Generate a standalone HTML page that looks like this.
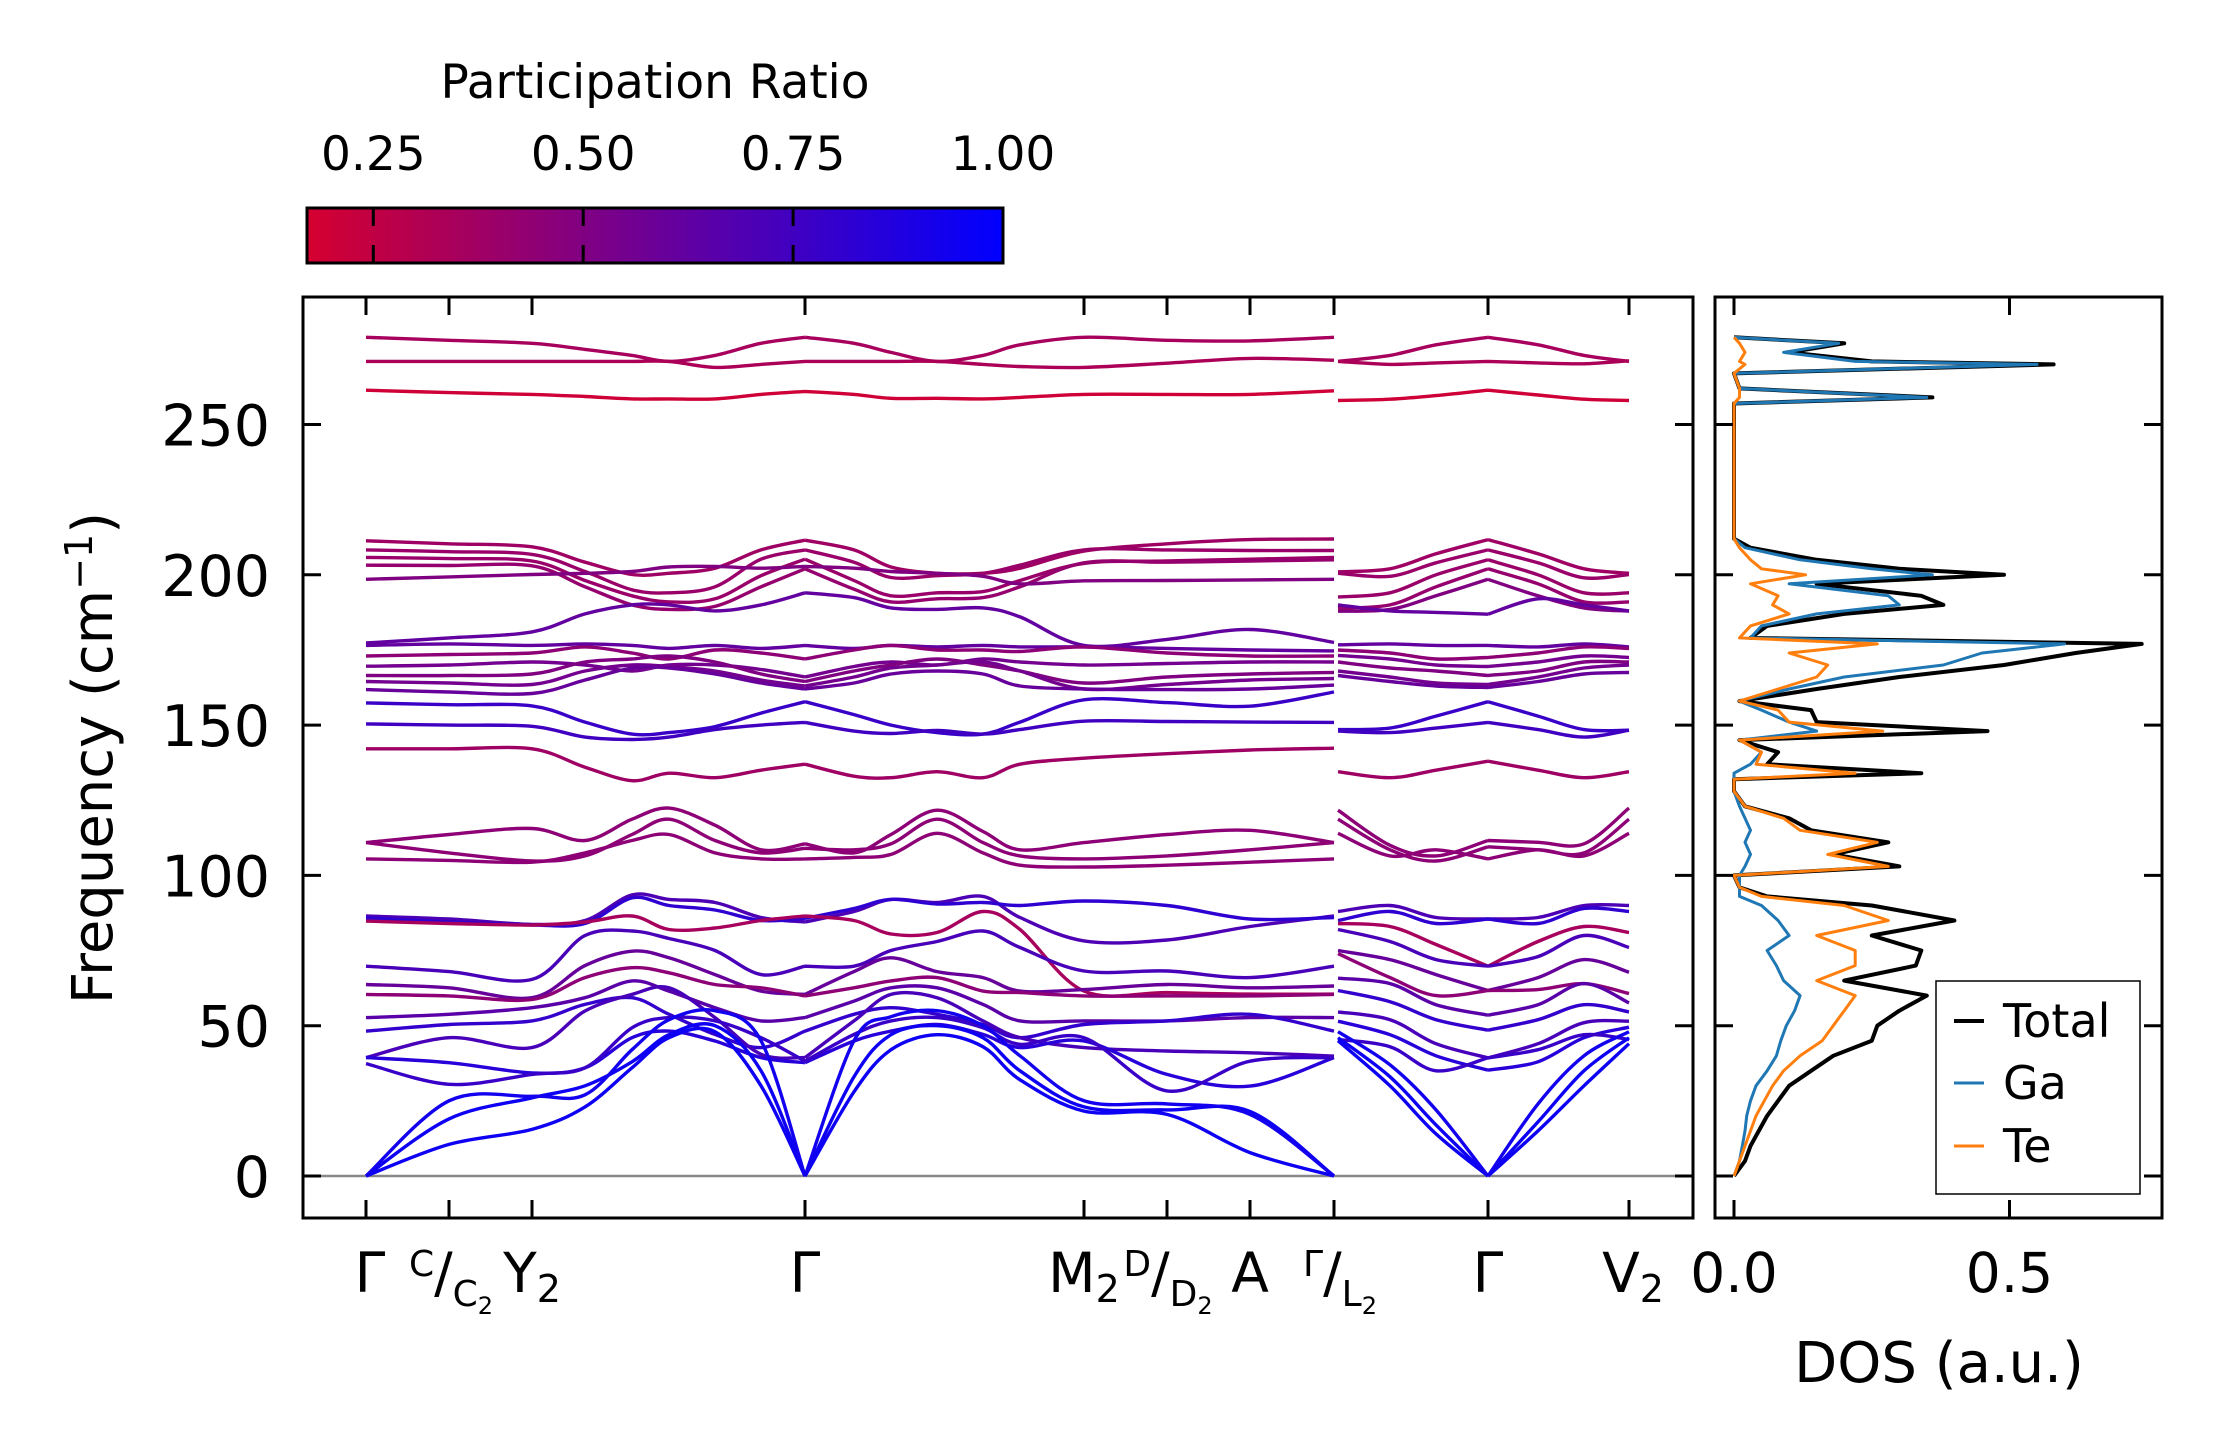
<!DOCTYPE html>
<html><head><meta charset="utf-8"><style>
html,body{margin:0;padding:0;background:#fff;}
svg{display:block;font-family:"DejaVu Sans","Liberation Sans",sans-serif;}
</style></head><body>
<svg id="fig" width="2222" height="1455" viewBox="0 0 2222 1455" xmlns="http://www.w3.org/2000/svg">
<defs>
<linearGradient id="cbgrad" x1="0" x2="1" y1="0" y2="0">
<stop offset="0" stop-color="rgb(213,0,48)"/>
<stop offset="1" stop-color="rgb(0,0,255)"/>
</linearGradient>
<clipPath id="clipMain"><rect x="303" y="297" width="1390" height="921"/></clipPath>
<clipPath id="clipDos"><rect x="1715" y="297" width="447" height="921"/></clipPath>
</defs>
<g>
<text x="655" y="98" font-size="47" text-anchor="middle">Participation Ratio</text>
<rect x="307" y="208" width="696" height="55" fill="url(#cbgrad)" stroke="#000" stroke-width="3"/>
<g id="cbticks"></g>
</g>
<g id="main">
<line x1="303" x2="1693" y1="1176" y2="1176" stroke="#888" stroke-width="2.5"/>
<g id="bands" clip-path="url(#clipMain)"></g>
<rect x="303" y="297" width="1390" height="921" fill="none" stroke="#000" stroke-width="3"/>
<g id="mainTicks"></g>
<text transform="translate(112,758) rotate(-90)" font-size="56" text-anchor="middle">Frequency (cm<tspan font-size="38" dy="-20">−1</tspan><tspan dy="20">)</tspan></text>
</g>
<g id="dos">
<g id="dosLines" clip-path="url(#clipDos)"></g>
<rect x="1715" y="297" width="447" height="921" fill="none" stroke="#000" stroke-width="3"/>
<g id="dosTicks"></g>
<text x="1939" y="1382" font-size="56" text-anchor="middle">DOS (a.u.)</text>
<g>
<rect x="1936" y="981" width="204" height="213" fill="#fff" stroke="#000" stroke-width="1.5"/>
<line x1="1954" x2="1984" y1="1021" y2="1021" stroke="#000" stroke-width="4"/>
<text x="2003" y="1037" font-size="46">Total</text>
<line x1="1954" x2="1984" y1="1083" y2="1083" stroke="#1f77b4" stroke-width="3"/>
<text x="2003" y="1099" font-size="46">Ga</text>
<line x1="1954" x2="1984" y1="1146" y2="1146" stroke="#ff7f0e" stroke-width="3"/>
<text x="2003" y="1162" font-size="46">Te</text>
</g>
</g>
</svg>
<script>
// ---- data ----
const kSeg1=[0,0.83,1.66,2.19,2.66,3.03,3.49,3.95,4.39,4.88,5.25,5.71,6.17,6.54,7.18,8.01,8.84,9.68];
const kSeg2=[9.72,10.24,10.70,11.22,11.72,12.18,12.63];
const kTicks=[0,0.83,1.66,4.39,7.18,8.01,8.84,9.68,11.22,12.63];
const yTicks=[0,50,100,150,200,250];
const cbTicks=[0.25,0.50,0.75,1.00];
const cbTickLabels=["0.25","0.50","0.75","1.00"];
const bandNames=["A","B","C","D1","D2","D3","D4","D5","D6","F1","F2","F3","F4","F5","F6","G1","G2","H","I1","I2","I3","B1","B2","B3","B4","B5","B6","B7","B8","B9","B10","B11","L1","L2","L3"];
const bandRatio=[0.35,0.33,0.2,0.38,0.4,0.4,0.42,0.5,0.62,0.62,0.45,0.55,0.5,0.55,0.6,0.78,0.75,0.38,0.45,0.45,0.45,0.7,0.82,0.35,0.72,0.6,0.45,0.65,0.8,0.72,0.85,0.78,0.95,0.95,0.93];
const seg1Freq=[
[279,278,277,275,273,271,273,277,279,277,274,271,273,276.5,279,278,277.8,279],
[271,271,271,271,271,271,269,270,271,271,271,271,270,269.3,269,270.4,272,271.4],
[261.4,260.6,260,259.3,258.5,258.5,258.5,260,261,260,258.7,258.7,258.5,259,260,260,260,261.2],
[211.3,210.3,209.3,204.2,200.1,200.5,202.2,208.3,211.5,208.3,202.6,200.5,200.5,202.2,207.9,210.3,211.7,211.9],
[208.3,207.7,206.8,201.1,195,194,196,205.2,208.3,204.2,199.1,199.7,200.5,203.2,208.3,208.3,208.1,208.1],
[205.8,205.4,204.6,198.1,193,191,192,199.7,205.2,198.1,193,194,194.4,198.1,203.8,204.6,205.2,205.8],
[203.2,203.1,203,196,190,188.5,189.5,196,202,195.2,191,192,192.4,196,204,204.2,204.6,205],
[198.5,199.3,200.1,200.5,201.1,202.6,202.8,202.2,202.8,202.2,201.1,200.5,199.5,197,198,198.1,198.3,198.5],
[177.3,179,181,187,190,190,188,190,194,192.4,189,188.5,189,186,176.5,178.5,181.8,177.5],
[176.5,177,176.5,177,176.5,175.5,176.5,175.5,176.5,175.5,176.5,176,176.5,176,176,175.5,175,174.7],
[173,173.5,174,176,174,172,175,174,172,175,176.5,175,175,174.5,176,174,173,173],
[169.6,170,171,170,168,170,170,168.5,166,169.5,171,170,172,171,170,170.5,171,171],
[166.5,166.5,167,171,172,173,171,167,164.5,168,170,172,170,168,164,166,167,167.5],
[164.5,164,163.5,168,170,169.5,168,165,163,166,169,170,171,168,162,163.5,165,165.5],
[161.8,161,160.5,165,169,169,167,164,162,164,167,168,167,163,162,161.8,162,163.3],
[157.4,156.8,156.4,151,147,147.5,149.5,154,157.8,153.5,150,147.5,147,151,158.4,157.5,156.3,161],
[150.4,150,149.6,146,145.2,146,148.5,150,150.9,148,147.2,148.2,147,148.5,151.3,151.2,151,150.9],
[142.1,142.1,142.1,136,131.5,134,132.5,135,137,133,132.5,134.5,132.5,137,139,140.5,141.7,142.3],
[110.9,113.6,115.6,111.6,118.7,122.4,116.7,108.5,110.5,107.5,113.6,121.7,114.6,108.5,110.9,113.6,115,110.9],
[110.9,107.5,104.8,106.5,113.6,118.7,111.6,107.5,109,108.5,110.5,118.7,110.9,106.5,105.5,106.5,108.5,110.9],
[105.5,105,104.4,107.5,111.6,113.6,107.5,105.5,105.5,106,107,114,107.5,103.4,102.8,103.4,104.4,105.5],
[86.5,85.5,83.7,85,93.5,92,91,86,84.5,88,92,91,93,86,78.2,78.5,83,86.5],
[85.9,84.5,83.5,84,92.5,90,88.5,85,85.7,89,92,90.5,91,90,91.5,90,85.5,86],
[84.8,84,83.5,84.5,86.5,82,82.5,85,86.5,85,80.5,81,88,82,61.5,61,60.5,60.5],
[69.8,68,65.4,80,81.5,79,75,67,69.8,69.8,75,78,81.5,76,68.2,68.2,66,69.8],
[63.7,62.6,59.3,70,74.8,72.6,67,61.5,60.4,68,72.6,68,66,61.5,62,63.7,62.6,63.2],
[60.4,59.9,58.7,66,69.3,67.6,63.7,62.6,59.9,62.6,64.9,66,61.5,61,59.9,59.9,59.9,60.4],
[52.7,53.8,56,59.3,64.9,61.5,56,51.6,52.7,58.2,62.6,62.6,57.1,51.6,51.6,51.6,52.7,52.7],
[48.2,50.4,51.6,57.1,59.3,53.8,47.1,42.7,48.2,53.8,56,53.8,50.4,46,50.4,51.6,53.8,48.2],
[39.4,46,42.7,54.9,60.4,62.6,52.7,40.5,39.4,51.6,60.4,59.3,51.6,46,42.7,41.6,41,39.9],
[39.4,37.7,34.3,36,46,48.2,44.9,39.4,37.7,44.9,48.2,50.4,47.1,42.7,44.9,33.8,29.9,39.4],
[37.4,30.5,33.8,36,49.3,52.7,51.6,46,38.2,47.1,51.6,52.7,49.3,43.8,46,28.3,38.2,39.4],
[0,10.5,15.5,23,36,46,48,30,0,28,42,47,43,32,21.6,20.5,7.8,0],
[0,19,26,30,38,47,50,35,0,33,47,50,46,35,23,22,21.5,0],
[0,25,26.5,27,42,52,55,45,0,45,53,55,50,40,25,24,20.5,0]
];
const seg2Freq=[
[271,273,276.5,279,276.5,273,271],
[271,270,270.5,271,270.5,270.2,271.2],
[258,258.4,259.6,261.4,259.8,258.4,258],
[201,202,207,211.7,207,202,200.5],
[200.5,199.5,204,208.3,204,199,200.1],
[192.6,194,200,205,200,194,194],
[188.9,190,196,202,197,191,191],
[187.9,188.5,193,198.5,193,189,187.9],
[190,188,187.5,186.9,192,190,188],
[176.7,177,176.5,176.5,176,177,176],
[175,174,172,172.5,174,176,175.5],
[173.2,172,170,169.5,171,173,172.5],
[171,169,168,166.5,168,171,171],
[168,166,164,163.5,166,169,170],
[166.5,164.5,163,162.5,164.5,167,167.5],
[148.5,149,153,157.8,153,148.5,148.3],
[148,147.5,149,150.9,148.5,146,148.3],
[134.5,132.5,135,138,135,132.5,134.5],
[121.7,110,106.5,111.6,111,110.5,122.4],
[118.7,108.5,104.8,109.5,108.5,107.5,118.7],
[114,106.5,108.5,105.5,108.5,106.5,114],
[88,90,86,85.5,86,90,90],
[85,88,84,85.5,84,89,88],
[84,83,77,69.8,78,83,81],
[82,78,72,69.8,73,80,76],
[75,72,67,61.7,66,72,67.8],
[74,66,60,61.7,62,64,60.7],
[65.8,64,57,53.5,57,64,57.6],
[61.7,58,52,48.5,52,57,54.6],
[54.6,52,44,39.3,44,51,51.5],
[51.5,47,40,35.2,38,46,49.5],
[45.4,43,35,39.3,42,47,45.4],
[45,30,14,0,15,30,44],
[46,33,17,0,18,35,46],
[48,37,22,0,24,40,48]
];
// DOS data
const dosFreq=[0,5,10,15,20,25,30,35,40,45,50,55,60,65,70,75,80,85,90,93,96,100,103,107,111,115,119,123,128,132,134,137,141,145,148,151,155,158,162,166,170,174,177,179,183,187,190,193,197,200,202,205,209,212,220,250,257,259,262,267,270,271,274,277,279];
const dosTotal=[0,0.02,0.03,0.045,0.06,0.08,0.1,0.14,0.18,0.25,0.26,0.3,0.35,0.2,0.33,0.34,0.25,0.4,0.25,0.06,0.01,0,0.3,0.18,0.28,0.14,0.1,0.02,0,0,0.34,0.06,0.08,0.01,0.46,0.15,0.14,0.01,0.15,0.3,0.49,0.62,0.74,0.03,0.06,0.2,0.38,0.34,0.15,0.49,0.3,0.15,0.03,0,0,0,0,0.36,0.01,0,0.58,0.25,0.1,0.2,0];
const dosGa=[0,0.01,0.015,0.02,0.023,0.03,0.04,0.06,0.077,0.085,0.095,0.11,0.12,0.09,0.077,0.06,0.1,0.08,0.05,0.01,0.01,0.01,0.02,0.03,0.02,0.03,0.02,0.01,0,0,0,0.03,0.05,0.01,0.15,0.1,0.05,0.01,0.1,0.2,0.38,0.45,0.6,0.03,0.05,0.15,0.3,0.28,0.1,0.36,0.25,0.12,0.02,0,0,0,0,0.35,0.01,0,0.55,0.22,0.09,0.19,0];
const dosTe=[0,0.01,0.02,0.03,0.04,0.055,0.07,0.09,0.12,0.16,0.18,0.2,0.22,0.15,0.22,0.22,0.15,0.28,0.2,0.05,0.01,0,0.28,0.17,0.26,0.12,0.09,0.02,0,0,0.22,0.04,0.05,0.01,0.27,0.1,0.08,0.01,0.08,0.15,0.17,0.1,0.26,0.01,0.03,0.1,0.07,0.08,0.03,0.13,0.05,0.03,0.01,0,0,0,0,0.01,0.01,0,0.02,0.01,0.02,0.01,0];
const dosTickVals=[0,0.5];
const dosTickLabels=["0.0","0.5"];

// ---- scales ----
const NS="http://www.w3.org/2000/svg";
const xk=k=>366+k*100;
const yf=f=>1176-f*3.006;
const xd=v=>1734+v*551;
const xcb=r=>307+(r-0.171)/(1-0.171)*696;
function ratioColor(r){
  const t=Math.max(0,Math.min(1,(r-0.171)/(1-0.171)));
  return "rgb("+Math.round(213*(1-t))+",0,"+Math.round(48+(255-48)*t)+")";
}
function mk(tag,attrs,parent){
  const e=document.createElementNS(NS,tag);
  for(const a in attrs)e.setAttribute(a,attrs[a]);
  parent.appendChild(e);return e;
}
function smoothPath(pts){
  let d="M"+pts[0][0].toFixed(1)+","+pts[0][1].toFixed(1);
  for(let i=0;i<pts.length-1;i++){
    const p0=pts[Math.max(0,i-1)],p1=pts[i],p2=pts[i+1],p3=pts[Math.min(pts.length-1,i+2)];
    const c1x=p1[0]+(p2[0]-p0[0])/6,c1y=p1[1]+(p2[1]-p0[1])/6;
    const c2x=p2[0]-(p3[0]-p1[0])/6,c2y=p2[1]-(p3[1]-p1[1])/6;
    d+=" C"+c1x.toFixed(1)+","+c1y.toFixed(1)+" "+c2x.toFixed(1)+","+c2y.toFixed(1)+" "+p2[0].toFixed(1)+","+p2[1].toFixed(1);
  }
  return d;
}
function piecePath(ks,fs,a,b){
  const pts=[];
  for(let i=a;i<=b;i++)pts.push([xk(ks[i]),yf(fs[i])]);
  return smoothPath(pts);
}

// bands (split at Gamma points so acoustic modes form sharp V)
const gB=document.getElementById("bands");
for(let b=0;b<bandNames.length;b++){
  const col=ratioColor(bandRatio[b]);
  const d1=piecePath(kSeg1,seg1Freq[b],0,8)+" "+piecePath(kSeg1,seg1Freq[b],8,17);
  const p1=mk("path",{d:d1,fill:"none",stroke:col,"stroke-width":3.4,"stroke-linejoin":"miter"},gB);
  
  
  const d2=piecePath(kSeg2,seg2Freq[b],0,3)+" "+piecePath(kSeg2,seg2Freq[b],3,6);
  const p2=mk("path",{d:d2,fill:"none",stroke:col,"stroke-width":3.4},gB);
  
  
}

// main ticks
const gT=document.getElementById("mainTicks");
kTicks.forEach(k=>{
  const t1=mk("line",{x1:xk(k),x2:xk(k),y1:297,y2:315,stroke:"#000","stroke-width":3},gT);
  
  
  const t2=mk("line",{x1:xk(k),x2:xk(k),y1:1200,y2:1218,stroke:"#000","stroke-width":3},gT);
  
  
});
yTicks.forEach(f=>{
  const l1=mk("line",{x1:303,x2:321,y1:yf(f),y2:yf(f),stroke:"#000","stroke-width":3},gT);
  
  
  const l2=mk("line",{x1:1675,x2:1693,y1:yf(f),y2:yf(f),stroke:"#000","stroke-width":3},gT);
  
  
  const tx=mk("text",{x:270,y:yf(f)+21,"font-size":57,"text-anchor":"end"},gT);
  tx.textContent=String(f);
  
  
});
// x labels
const xlab=document.createElementNS(NS,"g");


gT.appendChild(xlab);
xlab.innerHTML=
 '<text x="370" y="1292" font-size="55" text-anchor="middle">Γ</text>'+
 '<text x="451" y="1292" font-size="55" text-anchor="middle"><tspan font-size="36" dy="-16">C</tspan><tspan dy="16">/</tspan><tspan font-size="36" dy="14">C</tspan><tspan font-size="24" dy="8">2</tspan></text>'+
 '<text x="532" y="1292" font-size="55" text-anchor="middle">Y<tspan font-size="38" dy="10">2</tspan></text>'+
 '<text x="805" y="1292" font-size="55" text-anchor="middle">Γ</text>'+
 '<text x="1084" y="1292" font-size="55" text-anchor="middle">M<tspan font-size="38" dy="10">2</tspan></text>'+
 '<text x="1168" y="1292" font-size="55" text-anchor="middle"><tspan font-size="36" dy="-16">D</tspan><tspan dy="16">/</tspan><tspan font-size="36" dy="14">D</tspan><tspan font-size="24" dy="8">2</tspan></text>'+
 '<text x="1250" y="1292" font-size="55" text-anchor="middle">A</text>'+
 '<text x="1340" y="1292" font-size="55" text-anchor="middle"><tspan font-size="36" dy="-16">Γ</tspan><tspan dy="16">/</tspan><tspan font-size="36" dy="14">L</tspan><tspan font-size="24" dy="8">2</tspan></text>'+
 '<text x="1488" y="1292" font-size="55" text-anchor="middle">Γ</text>'+
 '<text x="1633" y="1292" font-size="55" text-anchor="middle">V<tspan font-size="38" dy="10">2</tspan></text>';

// colorbar ticks
const gC=document.getElementById("cbticks");
cbTicks.forEach((r,i)=>{
  if(r<1){
    const a=mk("line",{x1:xcb(r),x2:xcb(r),y1:208,y2:226,stroke:"#000","stroke-width":3},gC);
    
    
    const b=mk("line",{x1:xcb(r),x2:xcb(r),y1:245,y2:263,stroke:"#000","stroke-width":3},gC);
    
    
  }
  const t=mk("text",{x:xcb(r),y:170,"font-size":47,"text-anchor":"middle"},gC);
  t.textContent=cbTickLabels[i];
  
  
});

// DOS
const gD=document.getElementById("dosLines");
function dosLine(vals,col,w,name){
  const pts=dosFreq.map((f,i)=>xd(vals[i]).toFixed(1)+","+yf(f).toFixed(1)).join(" ");
  const p=mk("polyline",{points:pts,fill:"none",stroke:col,"stroke-width":w,"stroke-linejoin":"round"},gD);
  
  
}
dosLine(dosTotal,"#000",4,"dos-total-line");
dosLine(dosGa,"#1f77b4",3,"dos-ga-line");
dosLine(dosTe,"#ff7f0e",3,"dos-te-line");
const gDT=document.getElementById("dosTicks");
yTicks.forEach(f=>{
  const a=mk("line",{x1:1715,x2:1733,y1:yf(f),y2:yf(f),stroke:"#000","stroke-width":3},gDT);
  
  
  const b=mk("line",{x1:2144,x2:2162,y1:yf(f),y2:yf(f),stroke:"#000","stroke-width":3},gDT);
  
  
});
dosTickVals.forEach((v,i)=>{
  const a=mk("line",{x1:xd(v),x2:xd(v),y1:297,y2:315,stroke:"#000","stroke-width":3},gDT);
  
  
  const b=mk("line",{x1:xd(v),x2:xd(v),y1:1200,y2:1218,stroke:"#000","stroke-width":3},gDT);
  
  
  const t=mk("text",{x:xd(v),y:1292,"font-size":55,"text-anchor":"middle"},gDT);
  t.textContent=dosTickLabels[i];
  
  
});
</script>
</body></html>
